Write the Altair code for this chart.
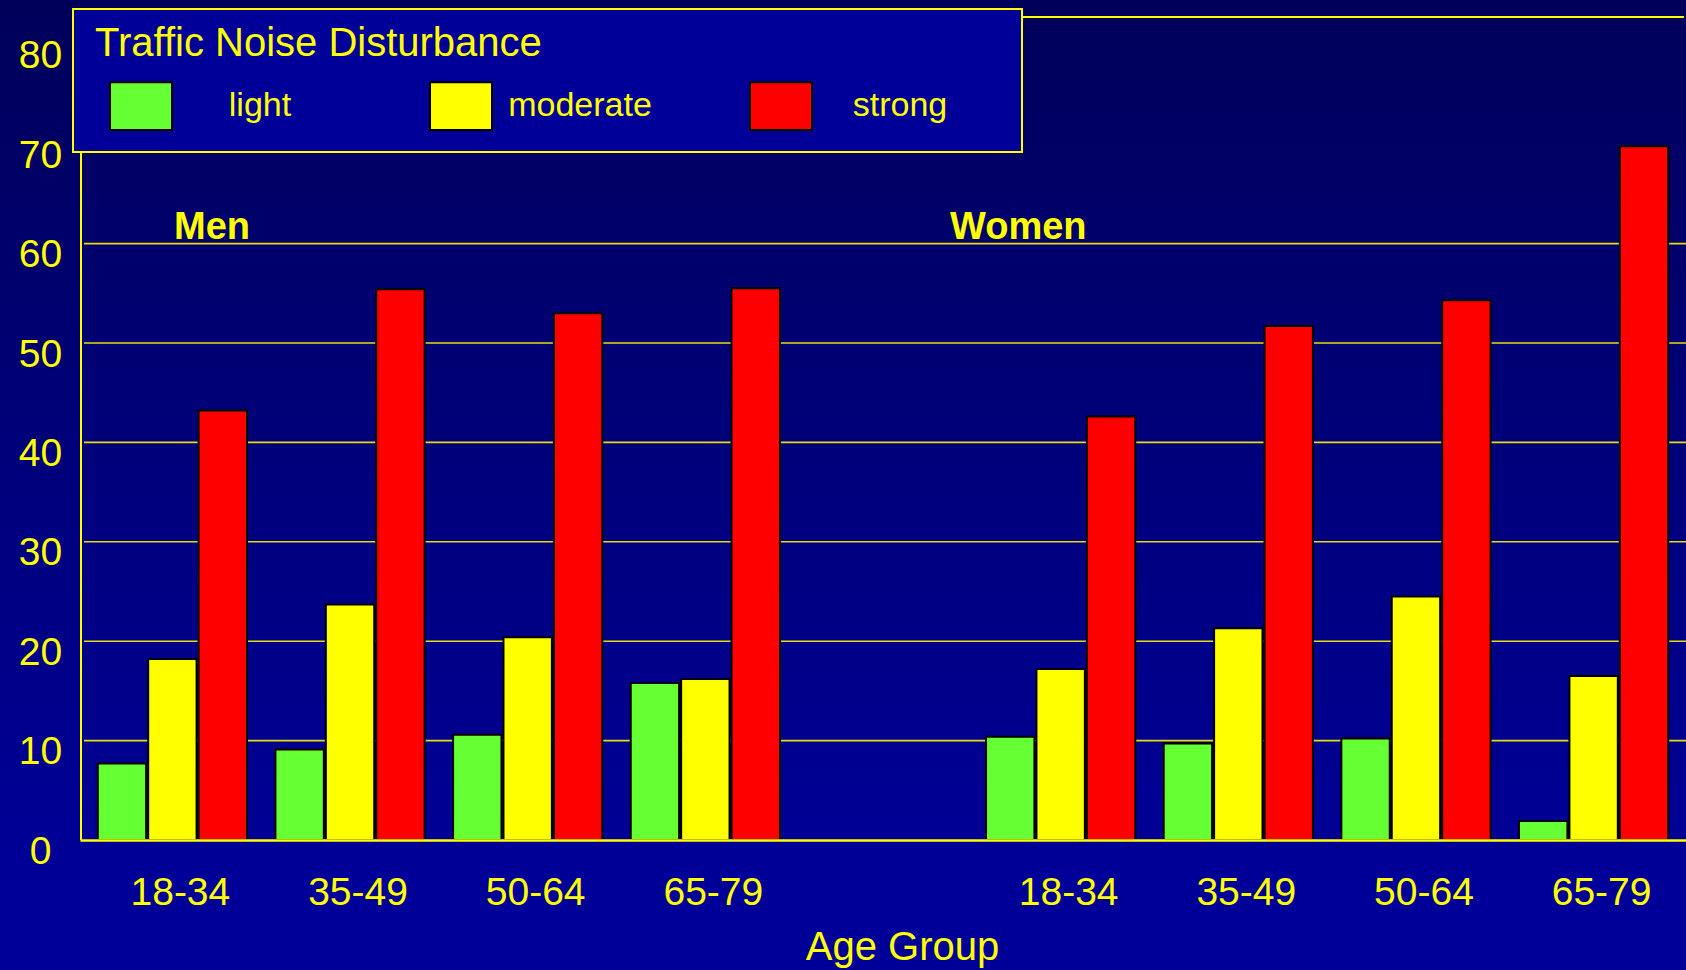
import altair as alt
import pandas as pd

# --- data -----------------------------------------------------------------
ages = ["18-34", "35-49", "50-64", "65-79"]
sexes = ["Men", "Women"]
levels = ["light", "moderate", "strong"]
level_colors = ["#66ff33", "#ffff00", "#ff0000"]

light_men = [7.7, 9.1, 10.6, 15.8]
moderate_men = [18.2, 23.7, 20.4, 16.2]
strong_men = [43.2, 55.4, 53.0, 55.5]

light_women = [10.4, 9.7, 10.2, 1.9]
moderate_women = [17.2, 21.3, 24.5, 16.5]
strong_women = [42.6, 51.7, 54.3, 69.8]

y_ticks = [0, 10, 20, 30, 40, 50, 60, 70, 80]
grid_values = [10, 20, 30, 40, 50, 60]

# --- tidy table ---------------------------------------------------------
series = {
    "Men": [light_men, moderate_men, strong_men],
    "Women": [light_women, moderate_women, strong_women],
}
rows = []
for sex in sexes:
    for lvl, vals in zip(levels, series[sex]):
        for age, v in zip(ages, vals):
            rows.append({"slot": f"{sex} {age}", "level": lvl, "value": v})
df = pd.DataFrame(rows)

# an empty slot separates the two groups
slots = [f"Men {a}" for a in ages] + ["gap"] + [f"Women {a}" for a in ages]

W, H = 1606, 823
YELLOW = "#ffff00"
FONT = "Liberation Sans"

y_scale = alt.Scale(domain=[0, 82.8], nice=False, zero=True)

# shared y axis: labels only, the left line is drawn separately
y_axis = alt.Axis(
    orient="left",
    values=y_ticks,
    title=None,
    domain=False,
    ticks=False,
    grid=False,
    labelColor=YELLOW,
    labelFont=FONT,
    labelFontSize=39,
    labelAlign="center",
    labelBaseline="middle",
    labelPadding=40,
    labelOffset=11,
    labelOverlap=False,
    zindex=2,
)

# --- background gradient over the whole canvas ---------------------------
bg = alt.Chart(alt.Data(values=[{}])).mark_rect(
    fill={
        "gradient": "linear",
        "x1": 0, "y1": 0, "x2": 0, "y2": 1,
        "stops": [
            {"offset": 0, "color": "#00005a"},
            {"offset": 0.92, "color": "#000099"},
            {"offset": 1, "color": "#000099"},
        ],
    }
).encode(
    x=alt.value(-80), x2=alt.value(W), y=alt.value(-17), y2=alt.value(H + 130)
)

# --- horizontal gridlines ------------------------------------------------
grid = alt.Chart(pd.DataFrame({"value": grid_values})).mark_rule(
    color="#e6dc10", strokeWidth=1.6
).encode(
    y=alt.Y("value:Q", scale=y_scale, axis=y_axis),
    x=alt.value(4), x2=alt.value(W),
)

# frame lines: top edge and left axis line
top_line = alt.Chart(alt.Data(values=[{}])).mark_rule(
    color=YELLOW, strokeWidth=2
).encode(x=alt.value(0), x2=alt.value(W - 2), y=alt.value(0))

left_line = alt.Chart(alt.Data(values=[{}])).mark_rule(
    color=YELLOW, strokeWidth=2
).encode(x=alt.value(1), y=alt.value(130), y2=alt.value(H))

# --- bars ------------------------------------------------------------------
bars = alt.Chart(df).mark_bar(stroke="#000000", strokeWidth=2).encode(
    x=alt.X(
        "slot:N",
        sort=slots,
        scale=alt.Scale(domain=slots, paddingInner=0.16, paddingOuter=0.1),
        axis=alt.Axis(
            title="Age Group",
            labelExpr="datum.value == 'gap' ? '' : split(datum.value, ' ')[1]",
            labelAngle=0,
            ticks=False,
            tickSize=0,
            grid=False,
            domainColor=YELLOW,
            domainWidth=2.5,
            labelColor=YELLOW,
            labelFont=FONT,
            labelFontSize=39,
            labelPadding=33,
            labelOffset=8,
            titleColor=YELLOW,
            titleFont=FONT,
            titleFontSize=40,
            titleFontWeight="normal",
            titleX=822,
            titleY=119,
            titleAlign="center",
            titleBaseline="alphabetic",
            zindex=2,
        ),
    ),
    xOffset=alt.XOffset(
        "level:N", sort=levels, scale=alt.Scale(domain=levels, paddingInner=0.04)
    ),
    y=alt.Y("value:Q", scale=y_scale, axis=y_axis),
    color=alt.Color(
        "level:N",
        sort=levels,
        scale=alt.Scale(domain=levels, range=level_colors),
        legend=alt.Legend(
            title="Traffic Noise Disturbance",
            orient="none",
            legendX=15,
            legendY=7,
            direction="horizontal",
            columns=3,
            gridAlign="all",
            columnPadding=83,
            padding=0,
            titleColor=YELLOW,
            titleFont=FONT,
            titleFontSize=40,
            titleFontWeight="normal",
            titleLimit=1000,
            titlePadding=10,
            labelColor=YELLOW,
            labelFont=FONT,
            labelFontSize=34,
            labelLimit=500,
            labelAlign="center",
            labelOffset=87,
            symbolType="M-1,-0.77H1V0.77H-1Z",
            symbolSize=3844,
            symbolOffset=14,
            symbolStrokeColor="#000000",
            symbolStrokeWidth=2,
            symbolOpacity=1,
        ),
    ),
)

# --- legend panel ---------------------------------------------------------
legend_box = alt.Chart(alt.Data(values=[{}])).mark_rect(
    fill="#000099", stroke=YELLOW, strokeWidth=2
).encode(x=alt.value(-7), x2=alt.value(942), y=alt.value(-8), y2=alt.value(135))

# --- group headings -------------------------------------------------------
men_label = alt.Chart(alt.Data(values=[{}])).mark_text(
    text="Men", font=FONT, fontSize=38, fontWeight="bold", color=YELLOW,
    align="left", baseline="alphabetic",
).encode(x=alt.value(94), y=alt.value(222))

women_label = alt.Chart(alt.Data(values=[{}])).mark_text(
    text="Women", font=FONT, fontSize=38, fontWeight="bold", color=YELLOW,
    align="left", baseline="alphabetic",
).encode(x=alt.value(870), y=alt.value(222))

chart = alt.layer(
    bg, grid, top_line, left_line, bars, legend_box, men_label, women_label
).properties(
    width=W,
    height=H,
    padding={"left": 80, "top": 17, "right": 0, "bottom": 130},
    autosize=alt.AutoSizeParams(type="none"),
    background="#000099",
).configure_view(
    stroke=None
)

chart.save("out.html", embed_options={"renderer": "svg", "actions": False})
